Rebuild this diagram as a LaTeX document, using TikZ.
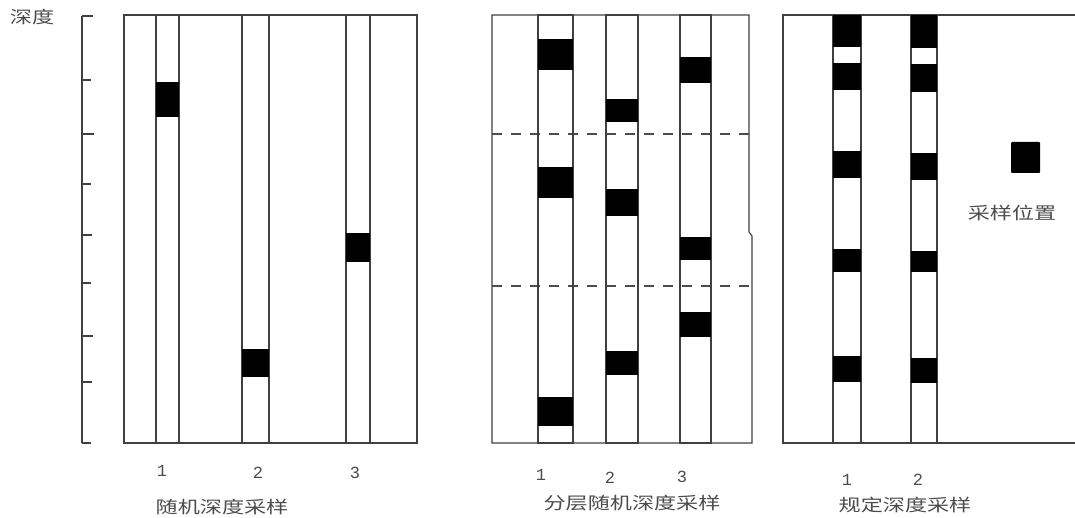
\documentclass[tikz,border=0pt]{standalone}
\usepackage{fontspec}
\newfontfamily\cjk{Noto Sans CJK SC}
\newfontfamily\digitfont{Liberation Mono}
\begin{document}
\begin{tikzpicture}[x=1pt,y=-1pt,
  frame/.style={draw=black!75,line width=1.1pt},
  col/.style={draw=black!75,line width=1.1pt},
  sample/.style={fill=black},
  layer/.style={draw=black!70,line width=1.1pt,dash pattern=on 10pt off 9pt},
  cjklabel/.style={text=black!70,font=\cjk\fontsize{17}{17}\selectfont,xscale=1.3,inner sep=0pt},
  numlabel/.style={text=black!70,font=\digitfont\fontsize{17}{17}\selectfont,inner sep=0pt}]
\useasboundingbox (0,0) rectangle (1075,518);
% depth axis
\node[cjklabel] (depth) at (32,17) {深度};
\draw[frame] (82,16) coordinate (ax0) -- (82,443) coordinate (ax1);
\foreach \y/\l in {16/11,80/9,134/12,184/9,235/10,283/9,336/11,382/10,443/9}
  \draw[frame] (82,\y) -- ++(\l,0);
% panel 1
\draw[frame] (124,15) rectangle (417,443);
\draw[col] (156,15) rectangle (179,443);
\draw[col] (242,15) rectangle (269,443);
\draw[col] (346,15) rectangle (370,443);
\fill[sample] (156,82) rectangle (179,117);
\fill[sample] (242,349) rectangle (269,377);
\fill[sample] (346,233) rectangle (370,262);
\node[numlabel] (p1a) at (162,471) {1};
\node[numlabel] (p1b) at (258,473) {2};
\node[numlabel] (p1c) at (355,473) {3};
\node[cjklabel] (t1) at (222,507) {随机深度采样};
% panel 2
\draw[frame] (749,15) -- (492,15) -- (492,443) -- (752,443) -- (752,236) -- (749,232) -- cycle;
\draw[layer] (492,134) -- (749,134);
\draw[layer] (492,286) -- (752,286);
\draw[col] (538,15) rectangle (573,443);
\draw[col] (606,15) rectangle (638,443);
\draw[col] (680,15) rectangle (711,443);
\fill[sample] (538,39) rectangle (573,70);
\fill[sample] (538,167) rectangle (573,198);
\fill[sample] (538,397) rectangle (573,426);
\fill[sample] (606,99) rectangle (638,122);
\fill[sample] (606,189) rectangle (638,216);
\fill[sample] (606,351) rectangle (638,375);
\fill[sample] (680,57) rectangle (711,83);
\fill[sample] (680,237) rectangle (711,260);
\fill[sample] (680,312) rectangle (711,337);
\node[numlabel] (p2a) at (541,475) {1};
\node[numlabel] (p2b) at (610,478) {2};
\node[numlabel] (p2c) at (682,477) {3};
\node[cjklabel] (t2) at (632,503) {分层随机深度采样};
% panel 3
\draw[frame] (1075,15) -- (783,15) -- (783,443) -- (1075,443);
\draw[col] (833,15) rectangle (861,443);
\draw[col] (911,15) rectangle (937,443);
\foreach \a/\b in {15/47,63/90,151/178,249/272,356/382}
  \fill[sample] (833,\a) rectangle (861,\b);
\foreach \a/\b in {15/48,64/92,153/180,251/272,358/383}
  \fill[sample] (911,\a) rectangle (937,\b);
\node[numlabel] (p3a) at (847,480) {1};
\node[numlabel] (p3b) at (918,480) {2};
\node[cjklabel] (t3) at (905,505) {规定深度采样};
% legend
\node[sample,rounded corners=1pt,minimum width=29pt,minimum height=31pt,inner sep=0pt] (legbox) at (1025.5,157.5) {};
\node[cjklabel] (legtext) at (1012,213) {采样位置};
\end{tikzpicture}
\end{document}
